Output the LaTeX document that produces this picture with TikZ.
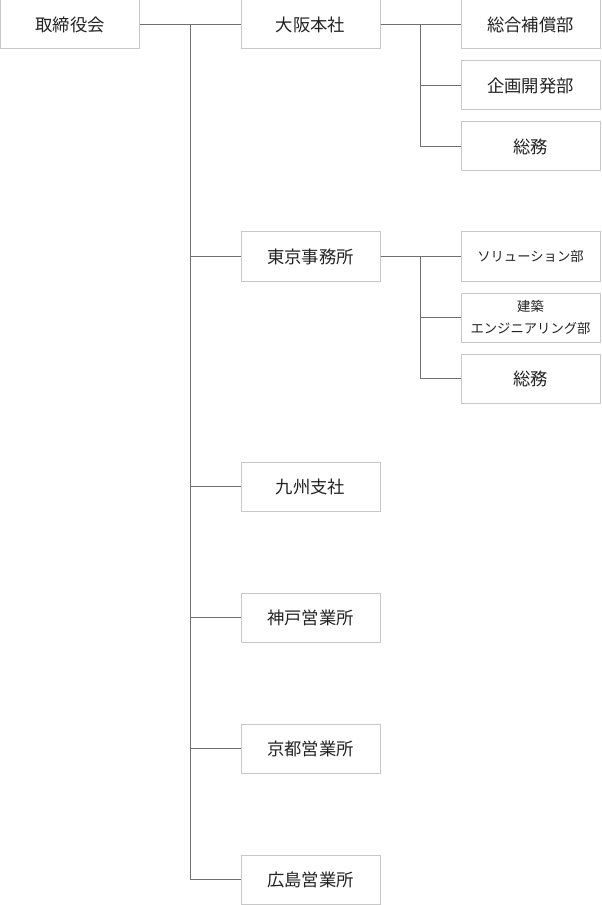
\documentclass[tikz,border=0pt]{standalone}
\usepackage{fontspec}
\setmainfont{Noto Sans CJK JP}
\usepackage{xcolor}
\usetikzlibrary{positioning}

\definecolor{boxgray}{HTML}{C8C8C8}
\definecolor{linegray}{HTML}{707070}
\definecolor{textgray}{HTML}{222222}

\tikzset{
    orgbox/.style={rectangle, draw=boxgray, line width=0.75pt, text=textgray,
        minimum width=104.25pt, minimum height=36.75pt, inner sep=2pt,
        font=\fontsize{13}{15}\selectfont},
    smallbox/.style={orgbox, align=center, font=\fontsize{10}{16.5}\selectfont},
    conn/.style={draw=linegray, line width=0.75pt}
}

\begin{document}
\begin{tikzpicture}[x=0.75pt, y=-0.75pt, node distance=8.25pt]
    \useasboundingbox (0,0) rectangle (601,905);

    \node (board) [orgbox] at (70,24.5) {取締役会};
    \node (osaka) [orgbox] at (310.5,24.5) {大阪本社};
    \node (tokyo) [orgbox] at (310.5,256.5) {東京事務所};
    \node (kyushu) [orgbox] at (310.5,486.5) {九州支社};
    \node (kobe) [orgbox] at (310.5,617.5) {神戸営業所};
    \node (kyoto) [orgbox] at (310.5,748.5) {京都営業所};
    \node (hiroshima) [orgbox] at (310.5,879.5) {広島営業所};

    \node (hosho) [orgbox] at (530.5,24.5) {総合補償部};
    \node (kikaku) [orgbox, below=of hosho] {企画開発部};
    \node (somu1) [orgbox, below=of kikaku] {総務};

    \node (solution) [smallbox] at (530.5,256.5) {ソリューション部};
    \node (kenchiku) [smallbox, below=of solution] {建築\\エンジニアリング部};
    \node (somu2) [orgbox, below=of kenchiku] {総務};

    \coordinate (trunk) at (190,24.5);
    \coordinate (osakabr) at (420,24.5);
    \coordinate (tokyobr) at (420,256.5);

    \draw [conn] (board) -- (osaka);
    \draw [conn] (trunk) |- (tokyo.west);
    \draw [conn] (trunk) |- (kyushu.west);
    \draw [conn] (trunk) |- (kobe.west);
    \draw [conn] (trunk) |- (kyoto.west);
    \draw [conn] (trunk) |- (hiroshima.west);

    \draw [conn] (osaka) -- (hosho);
    \draw [conn] (osakabr) |- (kikaku.west);
    \draw [conn] (osakabr) |- (somu1.west);

    \draw [conn] (tokyo) -- (solution);
    \draw [conn] (tokyobr) |- (kenchiku.west);
    \draw [conn] (tokyobr) |- (somu2.west);
\end{tikzpicture}
\end{document}
